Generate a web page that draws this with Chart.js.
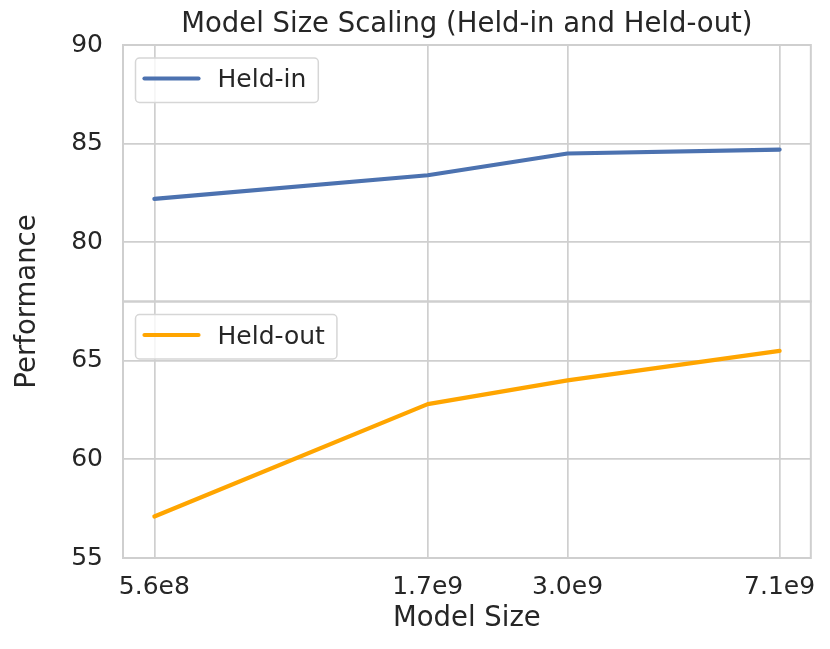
<!DOCTYPE html>
<html>
<head>
<meta charset="utf-8">
<title>Model Size Scaling</title>
<script src="https://cdn.jsdelivr.net/npm/chart.js@4.4.1/dist/chart.umd.min.js"></script>
<style>
  html, body { margin: 0; padding: 0; background: #ffffff; }
  #wrap { width: 830px; height: 649px; }
</style>
</head>
<body>
<div id="wrap"><canvas id="scalingChart"></canvas></div>
<script>
// values
const modelSizes = [5.6e8, 1.7e9, 3.0e9, 7.1e9];
const xTickLabels = ["5.6e8", "1.7e9", "3.0e9", "7.1e9"];
const heldIn = [82.2, 83.4, 84.5, 84.7];
const heldOut = [57.1, 62.8, 64.0, 65.5];
const topTicks = [80, 85, 90];
const bottomTicks = [55, 60, 65];

const textColor = "#262626";
const gridColor = "#cfcfcf";
const fontFamily = "'DejaVu Sans', sans-serif";
const lineWidth = 4.2;

Chart.defaults.font.family = fontFamily;
Chart.defaults.color = textColor;

function roundedBox(ctx, x, y, w, h, r) {
    ctx.beginPath();
    ctx.moveTo(x + r, y);
    ctx.arcTo(x + w, y, x + w, y + h, r);
    ctx.arcTo(x + w, y + h, x, y + h, r);
    ctx.arcTo(x, y + h, x, y, r);
    ctx.arcTo(x, y, x + w, y, r);
    ctx.closePath();
}

// box around each of the two stacked panels
const panelFrames = {
    id: "panelFrames",
    beforeDatasetsDraw(chart) {
        const ctx = chart.ctx;
        const area = chart.chartArea;
        ctx.save();
        ctx.strokeStyle = gridColor;
        ctx.lineWidth = 2;
        ["yTop", "yBottom"].forEach(id => {
            const s = chart.scales[id];
            ctx.strokeRect(area.left, s.top, area.right - area.left, s.bottom - s.top);
        });
        ctx.restore();
    }
};

// one legend in the upper left corner of each panel
const panelLegend = {
    id: "panelLegend",
    afterDatasetsDraw(chart) {
        const ctx = chart.ctx;
        const left = chart.chartArea.left;
        ctx.save();
        ctx.font = "25px " + fontFamily;
        chart.data.datasets.forEach(ds => {
            const s = chart.scales[ds.yAxisID];
            const bx = left + 12.5;
            const by = s.top + 13;
            const w = 82 + ctx.measureText(ds.label).width + 12;
            const h = 44.5;
            roundedBox(ctx, bx, by, w, h, 4);
            ctx.fillStyle = "rgba(255,255,255,0.8)";
            ctx.fill();
            ctx.strokeStyle = "#d6d6d6";
            ctx.lineWidth = 1.5;
            ctx.stroke();

            ctx.beginPath();
            ctx.moveTo(bx + 9, by + 20.5);
            ctx.lineTo(bx + 63, by + 20.5);
            ctx.strokeStyle = ds.borderColor;
            ctx.lineWidth = lineWidth;
            ctx.lineCap = "round";
            ctx.stroke();

            ctx.fillStyle = textColor;
            ctx.textAlign = "left";
            ctx.textBaseline = "alphabetic";
            ctx.fillText(ds.label, bx + 82, by + 29);
        });
        ctx.restore();
    }
};

// shared y label centred over both panels
const sharedYLabel = {
    id: "sharedYLabel",
    afterDraw(chart) {
        const ctx = chart.ctx;
        const area = chart.chartArea;
        ctx.save();
        ctx.translate(35, (area.top + area.bottom) / 2);
        ctx.rotate(-Math.PI / 2);
        ctx.font = "27.5px " + fontFamily;
        ctx.fillStyle = textColor;
        ctx.textAlign = "center";
        ctx.textBaseline = "alphabetic";
        ctx.fillText("Performance", 0, 0);
        ctx.restore();
    }
};

function yAxis(min, max, ticks) {
    return {
        type: "linear",
        position: "left",
        stack: "perf",
        stackWeight: 1,
        min: min,
        max: max,
        afterBuildTicks: s => { s.ticks = ticks.map(v => ({ value: v })); },
        afterFit: s => { s.width = 123; },
        ticks: { font: { size: 25 }, padding: 20, color: textColor },
        grid: { color: gridColor, lineWidth: 1.7, drawTicks: false },
        border: { display: false }
    };
}

new Chart(document.getElementById("scalingChart"), {
    type: "line",
    data: {
        datasets: [{
            label: "Held-in",
            data: modelSizes.map((x, i) => ({ x: x, y: heldIn[i] })),
            yAxisID: "yTop",
            borderColor: "#4c72b0",
            borderWidth: lineWidth,
            borderCapStyle: "round",
            borderJoinStyle: "round",
            pointRadius: 0,
            fill: false
        }, {
            label: "Held-out",
            data: modelSizes.map((x, i) => ({ x: x, y: heldOut[i] })),
            yAxisID: "yBottom",
            borderColor: "#ffa500",
            borderWidth: lineWidth,
            borderCapStyle: "round",
            borderJoinStyle: "round",
            pointRadius: 0,
            fill: false
        }]
    },
    options: {
        responsive: true,
        maintainAspectRatio: false,
        animation: false,
        layout: { padding: { left: 0, right: 19, top: 0, bottom: 0 } },
        scales: {
            x: {
                type: "logarithmic",
                min: 4.93e8,
                max: 8.06e9,
                afterBuildTicks: s => { s.ticks = modelSizes.map(v => ({ value: v })); },
                afterFit: s => { s.height = 91; },
                ticks: {
                    callback: (v, i) => xTickLabels[i],
                    font: { size: 25 },
                    padding: 14,
                    color: textColor,
                    maxRotation: 0,
                    autoSkip: false
                },
                grid: { color: gridColor, lineWidth: 1.7, drawTicks: false },
                border: { display: false },
                title: {
                    display: true,
                    text: "Model Size",
                    font: { size: 27.5 },
                    color: textColor,
                    padding: { top: 0, bottom: 14 }
                }
            },
            yBottom: yAxis(55, 68, bottomTicks),
            yTop: yAxis(77, 90, topTicks)
        },
        plugins: {
            legend: { display: false },
            tooltip: { enabled: false },
            title: {
                display: true,
                text: "Model Size Scaling (Held-in and Held-out)",
                fullSize: false,
                font: { size: 27.5, weight: "normal" },
                color: textColor,
                padding: { top: 8, bottom: 4 }
            }
        }
    },
    plugins: [panelFrames, panelLegend, sharedYLabel]
});
</script>
</body>
</html>
